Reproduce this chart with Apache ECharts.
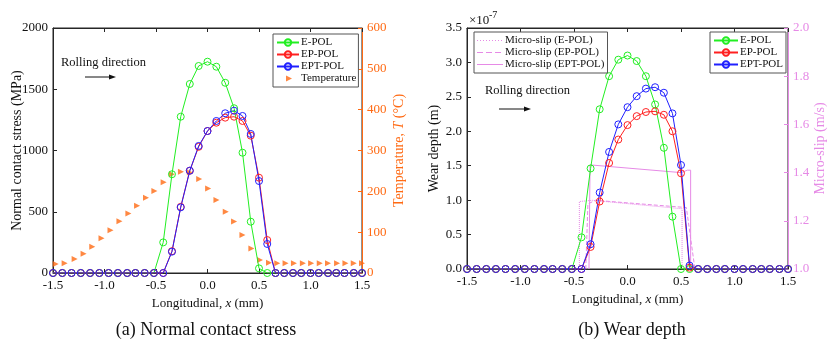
<!DOCTYPE html>
<html>
<head>
<meta charset="utf-8">
<script src="https://cdn.jsdelivr.net/npm/echarts@6/dist/echarts.min.js"></script>
<style>
  html, body { margin: 0; padding: 0; background: #fff; }
  #main { width: 828px; height: 350px; }
</style>
</head>
<body>
<div id="main"></div>
<script>
// x grid (mm) shared by the stress and wear curves
const gridX = [-1.5, -1.41, -1.32, -1.23, -1.14, -1.05, -0.96, -0.87, -0.78, -0.70, -0.61, -0.52,
  -0.43, -0.345, -0.26, -0.172, -0.086, 0, 0.086, 0.172, 0.258, 0.34, 0.42, 0.50, 0.58, 0.66,
  0.745, 0.83, 0.91, 1.0, 1.08, 1.17, 1.25, 1.33, 1.42, 1.5];

// (a) normal contact stress, MPa
const stressE   = [0,0,0,0,0,0,0,0,0,0,0,0, 250, 806, 1276, 1543, 1690, 1725, 1684, 1553, 1345, 982, 419, 38, 0, 0, 0,0,0,0,0,0,0,0,0,0];
const stressEP  = [0,0,0,0,0,0,0,0,0,0,0,0, 0, 178, 540, 835, 1030, 1159, 1227, 1268, 1276, 1241, 1121, 778, 269, 0, 0,0,0,0,0,0,0,0,0,0];
const stressEPT = [0,0,0,0,0,0,0,0,0,0,0,0, 0, 174, 536, 835, 1037, 1159, 1241, 1304, 1325, 1282, 1135, 751, 237, 0, 0,0,0,0,0,0,0,0,0,0];

// temperature, °C
const tempX = [-1.474, -1.387, -1.29, -1.203, -1.119, -1.029, -0.942, -0.855, -0.768, -0.684, -0.597, -0.516,
  -0.426, -0.345, -0.258, -0.171, -0.081, 0.006, 0.087, 0.177, 0.258, 0.339, 0.426, 0.51, 0.597, 0.677,
  0.758, 0.839, 0.926, 1.006, 1.09, 1.17, 1.258, 1.339, 1.42, 1.5];
const tempVal = [22, 24, 34, 47, 64, 85, 105, 127, 146, 165, 184, 201, 222, 242, 248, 246, 230, 207, 179,
  150, 126, 93, 60, 32, 25, 24, 24, 24, 24, 24, 24, 24, 24, 24, 24, 24];

// (b) wear depth, x1e-7 m
const wearE   = [0,0,0,0,0,0,0,0,0,0,0,0, 0.46, 1.46, 2.32, 2.80, 3.04, 3.10, 3.02, 2.80, 2.39, 1.76, 0.76, 0, 0, 0, 0,0,0,0,0,0,0,0,0,0];
const wearEP  = [0,0,0,0,0,0,0,0,0,0,0,0, 0, 0.32, 0.98, 1.54, 1.88, 2.09, 2.22, 2.28, 2.29, 2.24, 2.00, 1.39, 0.02, 0, 0,0,0,0,0,0,0,0,0,0];
const wearEPT = [0,0,0,0,0,0,0,0,0,0,0,0, 0, 0.36, 1.11, 1.70, 2.10, 2.35, 2.51, 2.62, 2.64, 2.56, 2.26, 1.51, 0.05, 0, 0,0,0,0,0,0,0,0,0,0];

// micro-slip, m/s
const slipEX   = [-0.45, -0.45, -0.33, 0.51, 0.51];
const slipEY   = [1.0, 1.28, 1.285, 1.25, 1.0];
const slipEPX  = [-0.39, -0.37, -0.30, 0.55, 0.63];
const slipEPY  = [1.0, 1.27, 1.285, 1.255, 1.0];
const slipEPTX = [-0.36, -0.35, 0.50, 0.56, 0.59, 0.59];
const slipEPTY = [1.0, 1.432, 1.40, 1.41, 1.41, 1.0];

const FONT = 'Liberation Serif';
const ORANGE = '#FF6A13';
const VIOLET = '#E68AE6';
const AXIS = '#262626';

const pairs = (xs, ys) => xs.map((x, i) => [x, ys[i]]);

// small svg legend icons (legend can't size a scatter symbol or a dashed line well)
function svgIcon(inner, w, h) {
    return 'image://data:image/svg+xml;charset=utf-8,' +
        encodeURIComponent('<svg xmlns="http://www.w3.org/2000/svg" width="' + w + '" height="' + h + '">' + inner + '</svg>');
}
const triIcon = svgIcon('<polygon points="9,1 15,4 9,7" fill="' + ORANGE + '"/>', 22, 8);
const slipIcon = dash => svgIcon('<line x1="0" y1="4" x2="26" y2="4" stroke="' + VIOLET + '" stroke-width="1" stroke-dasharray="' + dash + '"/>', 26, 8);

const chart = echarts.init(document.getElementById('main'));

function xAx(gridIndex, pos) {
    return {
        type: 'value', gridIndex: gridIndex, position: pos,
        min: -1.5, max: 1.5, interval: 0.5,
        axisLine: { show: true, onZero: false, lineStyle: { color: AXIS } },
        axisTick: { show: true, inside: true, length: 4, lineStyle: { color: AXIS } },
        axisLabel: {
            show: pos === 'bottom', color: '#111', fontFamily: FONT, fontSize: 13, margin: 6,
            formatter: v => v.toFixed(1)
        },
        splitLine: { show: false },
        name: pos === 'bottom' ? 'Longitudinal, {i|x} (mm)' : '',
        nameLocation: 'middle', nameGap: 22,
        nameTextStyle: { color: '#111', fontFamily: FONT, fontSize: 13, rich: { i: { fontStyle: 'italic', fontFamily: FONT, fontSize: 13 } } }
    };
}

function yAx(gridIndex, pos, min, max, step, color, name, gap, fmt, rich) {
    return {
        type: 'value', gridIndex: gridIndex, position: pos, min: min, max: max, interval: step,
        axisLine: { show: true, onZero: false, lineStyle: { color: color } },
        axisTick: { show: true, inside: true, length: 4, lineStyle: { color: color } },
        axisLabel: { color: color === AXIS ? '#111' : color, fontFamily: FONT, fontSize: 13, margin: 5, formatter: fmt },
        splitLine: { show: false },
        name: name, nameLocation: 'middle', nameGap: gap, nameMoveOverlap: false,
        nameTextStyle: { color: color === AXIS ? '#111' : color, fontFamily: FONT, fontSize: 14, rich: rich }
    };
}

const lineSeries = (name, xi, yi, ys, color) => ({
    name: name, type: 'line', xAxisIndex: xi, yAxisIndex: yi,
    data: pairs(gridX, ys),
    symbol: 'circle', symbolSize: 7,
    itemStyle: { color: 'rgba(0,0,0,0)', borderColor: color, borderWidth: 1 },
    lineStyle: { color: color, width: 1 },
    emphasis: { disabled: true }
});

const slipSeries = (name, xs, ys, type) => ({
    name: name, type: 'line', xAxisIndex: 2, yAxisIndex: 3,
    data: pairs(xs, ys), showSymbol: false, symbol: 'none',
    itemStyle: { color: VIOLET },
    lineStyle: { color: VIOLET, width: 1, type: type },
    emphasis: { disabled: true }
});

const legendBase = {
    orient: 'vertical', itemGap: 1, itemWidth: 22, itemHeight: 8,
    borderColor: '#555', borderWidth: 1, backgroundColor: '#fff',
    textStyle: { fontFamily: FONT, fontSize: 11, color: '#111', padding: [0, 0, 0, -3] }
};

const option = {
    animation: false,
    textStyle: { fontFamily: FONT },
    grid: [
        { left: 53, top: 28, width: 309, height: 245, show: true, borderColor: AXIS, borderWidth: 1 },
        { left: 467, top: 28, width: 324, height: 241, show: true, borderColor: AXIS, borderWidth: 1 }
    ],
    xAxis: [xAx(0, 'bottom'), xAx(0, 'top'), xAx(1, 'bottom'), xAx(1, 'top')],
    yAxis: [
        yAx(0, 'left', 0, 2000, 500, AXIS, 'Normal contact stress (MPa)', 29, v => String(v)),
        yAx(0, 'right', 0, 600, 100, ORANGE, 'Temperature, {i|T} (°C)', 30, v => String(v),
            { i: { fontStyle: 'italic', color: ORANGE, fontFamily: FONT, fontSize: 14 } }),
        yAx(1, 'left', 0, 3.5, 0.5, AXIS, 'Wear depth (m)', 26, v => v.toFixed(1)),
        yAx(1, 'right', 1.0, 2.0, 0.2, VIOLET, 'Micro-slip (m/s)', 25, v => v.toFixed(1))
    ],
    legend: [
        Object.assign({}, legendBase, {
            left: 273, top: 34, padding: [3, 2, 3, 3],
            data: ['E-POL', 'EP-POL', 'EPT-POL', { name: 'Temperature', icon: triIcon }]
        }),
        Object.assign({}, legendBase, {
            left: 474, top: 32, padding: [3, 3, 3, 3], itemWidth: 26,
            data: [
                { name: 'Micro-slip (E-POL)', icon: slipIcon('1,2') },
                { name: 'Micro-slip (EP-POL)', icon: slipIcon('6,3') },
                { name: 'Micro-slip (EPT-POL)', icon: slipIcon('none') }
            ]
        }),
        Object.assign({}, legendBase, {
            left: 710, top: 32, padding: [3, 3, 3, 3], itemWidth: 24,
            data: ['E-POL', 'EP-POL', 'EPT-POL']
        })
    ],
    series: [
        lineSeries('E-POL', 0, 0, stressE, '#22EE22'),
        lineSeries('EP-POL', 0, 0, stressEP, '#FF2020'),
        lineSeries('EPT-POL', 0, 0, stressEPT, '#2020FF'),
        {
            name: 'Temperature', type: 'scatter', xAxisIndex: 0, yAxisIndex: 1,
            data: pairs(tempX, tempVal), symbol: 'triangle', symbolRotate: -90, symbolSize: 6,
            itemStyle: { color: ORANGE }, z: 1, emphasis: { disabled: true }
        },
        slipSeries('Micro-slip (E-POL)', slipEX, slipEY, 'dotted'),
        slipSeries('Micro-slip (EP-POL)', slipEPX, slipEPY, 'dashed'),
        slipSeries('Micro-slip (EPT-POL)', slipEPTX, slipEPTY, 'solid'),
        lineSeries('E-POL', 2, 2, wearE, '#22EE22'),
        lineSeries('EP-POL', 2, 2, wearEP, '#FF2020'),
        lineSeries('EPT-POL', 2, 2, wearEPT, '#2020FF')
    ],
    graphic: [
        { type: 'text', x: 61, y: 63, style: { text: 'Rolling direction', font: '12.5px "Liberation Serif"', fill: '#111', textVerticalAlign: 'middle' } },
        { type: 'line', shape: { x1: 85, y1: 77, x2: 111, y2: 77 }, style: { stroke: '#111', lineWidth: 1 } },
        { type: 'polygon', shape: { points: [[116, 77], [109, 74.5], [109, 79.5]] }, style: { fill: '#111' } },
        { type: 'text', x: 485, y: 91, style: { text: 'Rolling direction', font: '12.5px "Liberation Serif"', fill: '#111', textVerticalAlign: 'middle' } },
        { type: 'line', shape: { x1: 499, y1: 109, x2: 526, y2: 109 }, style: { stroke: '#111', lineWidth: 1 } },
        { type: 'polygon', shape: { points: [[531, 109], [524, 106.5], [524, 111.5]] }, style: { fill: '#111' } },
        { type: 'text', x: 469, y: 21, style: { text: '×10', font: '13px "Liberation Serif"', fill: '#111', textVerticalAlign: 'middle' } },
        { type: 'text', x: 489, y: 15, style: { text: '-7', font: '10px "Liberation Serif"', fill: '#111', textVerticalAlign: 'middle' } },
        { type: 'text', x: 206, y: 330, style: { text: '(a) Normal contact stress', font: '18px "Liberation Serif"', fill: '#111', textAlign: 'center', textVerticalAlign: 'middle' } },
        { type: 'text', x: 632, y: 330, style: { text: '(b) Wear depth', font: '18px "Liberation Serif"', fill: '#111', textAlign: 'center', textVerticalAlign: 'middle' } }
    ]
};

chart.setOption(option);
</script>
</body>
</html>
